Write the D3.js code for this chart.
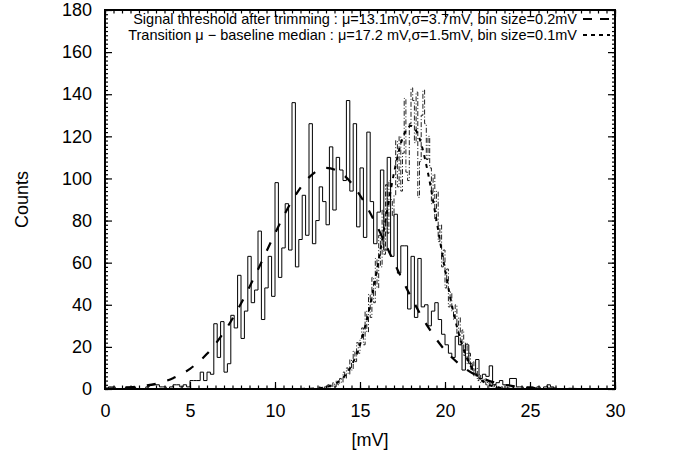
<!DOCTYPE html>
<html>
<head>
<meta charset="utf-8">
<script src="https://cdn.jsdelivr.net/npm/d3@7"></script>
<style>
  body { margin: 0; background: #fff; }
  svg { display: block; font-family: "Liberation Sans", Arial, Helvetica, sans-serif; }
</style>
</head>
<body>
<div id="chart"></div>
<script>
// histogram 1: signal threshold after trimming, bins of 0.2 mV starting at 0
const startA = 0, binA = 0.2;
const countsA = [
  0, 1, 1, 0, 0, 0, 1, 1, 1, 0,
  0, 0, 1, 2, 2, 2, 1, 1, 0, 1,
  2, 2, 1, 2, 1, 4, 4, 4, 8, 4,
  8, 7, 31, 15, 32, 8, 12, 35, 29, 54,
  24, 37, 63, 41, 47, 75, 33, 48, 63, 44,
  98, 53, 67, 88, 66, 136, 58, 71, 92, 73,
  126, 69, 80, 96, 89, 78, 115, 85, 110, 104,
  99, 137, 94, 126, 77, 105, 72, 122, 89, 69,
  84, 104, 66, 110, 63, 83, 55, 68, 68, 38,
  63, 34, 62, 39, 40, 30, 37, 41, 33, 26,
  21, 17, 15, 25, 21, 9, 21, 12, 9, 14,
  5, 7, 6, 11, 2, 3, 4, 2, 2, 5,
  5, 1, 1, 0, 1, 1, 0, 1, 0, 1,
  2, 1, 0, 0, 0, 0, 0, 0, 0, 0,
  0, 0, 0, 0, 0, 0, 0, 0, 0, 0
];

// histogram 2: transition mu - baseline median, bins of 0.1 mV starting at 12.5
const startB = 12.5, binB = 0.1;
const countsB = [
  0, 1, 0, 0, 1, 0, 2, 1, 1, 3,
  1, 4, 2, 5, 3, 8, 5, 10, 7, 14,
  9, 18, 13, 22, 17, 24, 29, 21, 37, 27,
  45, 34, 53, 41, 62, 48, 73, 58, 85, 64,
  97, 74, 99, 90, 82, 92, 118, 96, 120, 94,
  112, 138, 103, 99, 126, 143, 137, 117, 141, 91,
  108, 130, 142, 126, 109, 120, 105, 88, 102, 80,
  94, 70, 78, 58, 66, 48, 57, 39, 46, 37,
  33, 40, 25, 34, 21, 28, 16, 22, 12, 17,
  9, 13, 6, 10, 4, 7, 3, 4, 5, 2,
  4, 1, 3, 1, 2, 0, 1, 0, 1, 0,
  0, 1, 0, 0, 1, 0, 0
];

// fitted curves
const fitAx = [0, 1, 2, 3, 4, 5, 6, 7, 8, 9, 10, 11, 12, 13, 14, 15, 16, 17, 18, 19, 20, 21, 22, 23, 24, 25, 26, 27, 28, 29, 30];
const fitAy = [0.2, 0.5, 1.2, 2.5, 5.1, 9.6, 16.7, 27, 40.6, 56.8, 73.9, 89.4, 100.5, 105, 101.9, 92, 77.3, 60.2, 43.7, 29.5, 18.4, 10.8, 5.8, 2.9, 1.4, 0.6, 0.2, 0.1, 0, 0, 0];
const fitBx = [11, 12, 12.5, 13, 13.5, 14, 14.5, 15, 15.5, 16, 16.5, 17, 17.5, 18, 18.5, 19, 19.5, 20, 20.5, 21, 21.5, 22, 22.5, 23, 23.5, 24, 25];
const fitBy = [0, 0.1, 0.3, 0.9, 2.3, 5.3, 11.1, 21.1, 36.3, 56.7, 80.1, 102.6, 119, 125, 119, 102.6, 80.1, 56.7, 36.3, 21.1, 11.1, 5.3, 2.3, 0.9, 0.3, 0.1, 0];

const xTicks = [0, 5, 10, 15, 20, 25, 30];
const yTicks = [0, 20, 40, 60, 80, 100, 120, 140, 160, 180];
const legendLabels = [
  "Signal threshold after trimming : μ=13.1mV,σ=3.7mV, bin size=0.2mV",
  "Transition μ − baseline median : μ=17.2 mV,σ=1.5mV, bin size=0.1mV"
];

const width = 674, height = 454;
const L = 105, R = 615, T = 10, B = 389;

const x = d3.scaleLinear().domain([0, 30]).range([L, R]);
const y = d3.scaleLinear().domain([0, 180]).range([B, T]);

const svg = d3.select("#chart").append("svg")
  .attr("width", width).attr("height", height);

svg.append("defs").append("clipPath").attr("id", "plot")
  .append("rect").attr("x", L).attr("y", T).attr("width", R - L).attr("height", B - T);

// step outline of a histogram
function steps(start, bin, counts) {
  const pts = [[start, 0]];
  counts.forEach((c, i) => pts.push([start + i * bin, c]));
  pts.push([start + counts.length * bin, counts[counts.length - 1]]);
  pts.push([start + counts.length * bin, 0]);
  return pts;
}
const stepLine = d3.line().x(d => x(d[0])).y(d => y(d[1])).curve(d3.curveStepAfter);
const smooth = d3.line().x(d => x(d[0])).y(d => y(d[1])).curve(d3.curveMonotoneX);

const plot = svg.append("g").attr("clip-path", "url(#plot)");

plot.append("path")
  .attr("d", stepLine(steps(startB, binB, countsB)))
  .attr("fill", "none").attr("stroke", "#222").attr("stroke-width", 1)
  .attr("stroke-dasharray", "5,2,1,2");

plot.append("path")
  .attr("d", stepLine(steps(startA, binA, countsA)))
  .attr("fill", "none").attr("stroke", "#000").attr("stroke-width", 1);

plot.append("path")
  .attr("d", smooth(fitAx.map((v, i) => [v, fitAy[i]])))
  .attr("fill", "none").attr("stroke", "#000").attr("stroke-width", 2.2)
  .attr("stroke-dasharray", "9,12");

plot.append("path")
  .attr("d", smooth(fitBx.map((v, i) => [v, fitBy[i]])))
  .attr("fill", "none").attr("stroke", "#000").attr("stroke-width", 2)
  .attr("stroke-dasharray", "4,5");

// ticks on all four sides, pointing inwards
const minorX = d3.range(0, 30.01, 0.5);
const minorY = d3.range(0, 180.01, 2);
function tickAxis(axis, g) {
  g.call(axis).call(s => s.select(".domain").remove());
  g.selectAll(".tick line").attr("stroke", "#000").attr("stroke-width", 1.2);
}
tickAxis(d3.axisBottom(x).tickValues(minorX).tickSize(-3.5).tickFormat(""),
  svg.append("g").attr("transform", `translate(0,${B})`));
tickAxis(d3.axisTop(x).tickValues(minorX).tickSize(-3.5).tickFormat(""),
  svg.append("g").attr("transform", `translate(0,${T})`));
tickAxis(d3.axisLeft(y).tickValues(minorY).tickSize(-3).tickFormat(""),
  svg.append("g").attr("transform", `translate(${L},0)`));
tickAxis(d3.axisRight(y).tickValues(minorY).tickSize(-3).tickFormat(""),
  svg.append("g").attr("transform", `translate(${R},0)`));

const xAxis = svg.append("g").attr("transform", `translate(0,${B})`)
  .call(d3.axisBottom(x).tickValues(xTicks).tickSizeInner(-7).tickSizeOuter(0).tickPadding(15));
const yAxis = svg.append("g").attr("transform", `translate(${L},0)`)
  .call(d3.axisLeft(y).tickValues(yTicks).tickSizeInner(-7).tickSizeOuter(0).tickPadding(13));
tickAxis(d3.axisTop(x).tickValues(xTicks).tickSize(-7).tickFormat(""),
  svg.append("g").attr("transform", `translate(0,${T})`));
tickAxis(d3.axisRight(y).tickValues(yTicks).tickSize(-7).tickFormat(""),
  svg.append("g").attr("transform", `translate(${R},0)`));

[xAxis, yAxis].forEach(g => {
  g.select(".domain").remove();
  g.selectAll(".tick line").attr("stroke", "#000").attr("stroke-width", 1.2);
  g.selectAll(".tick text").attr("font-size", 18).attr("fill", "#000")
    .attr("font-family", "Liberation Sans, Arial, sans-serif");
});

// frame
svg.append("rect").attr("x", L).attr("y", T).attr("width", R - L).attr("height", B - T)
  .attr("fill", "none").attr("stroke", "#000").attr("stroke-width", 2);

// axis titles
svg.append("text").attr("x", 370).attr("y", 446)
  .attr("text-anchor", "middle").attr("font-size", 18).text("[mV]");
svg.append("text").attr("transform", `translate(28,${(T + B) / 2}) rotate(-90)`)
  .attr("text-anchor", "middle").attr("font-size", 18).text("Counts");

// legend
const legend = svg.append("g");
const legendDash = ["9,8", "4,4"];
const legendWidth = [2.2, 2];
legendLabels.forEach((t, i) => {
  const by = 24 + i * 16;
  legend.append("text").attr("x", 577).attr("y", by)
    .attr("text-anchor", "end").attr("font-size", 14.5).text(t);
  legend.append("line").attr("x1", 583).attr("x2", 610)
    .attr("y1", by - 5).attr("y2", by - 5)
    .attr("stroke", "#000").attr("stroke-width", legendWidth[i])
    .attr("stroke-dasharray", legendDash[i]);
});
</script>
</body>
</html>
